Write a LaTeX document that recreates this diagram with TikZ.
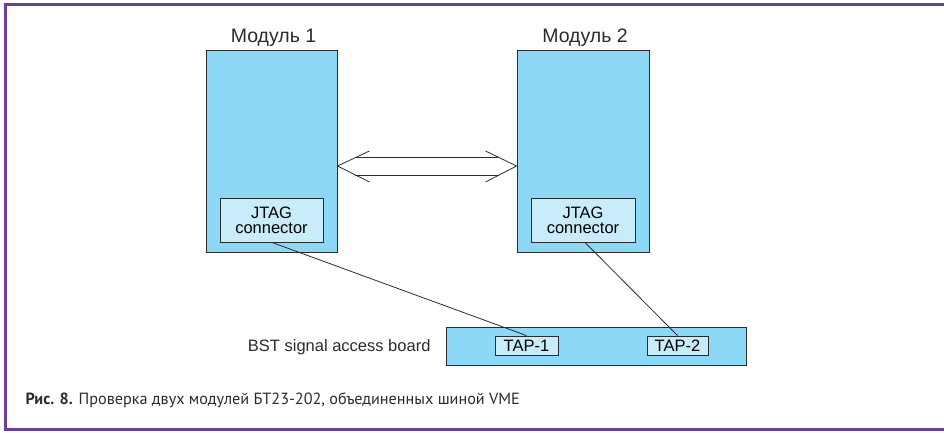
\documentclass[tikz,border=0pt]{standalone}
\usepackage{fontspec}
\setmainfont{Liberation Sans}
\newfontfamily\captionfont{PT Sans}
\usetikzlibrary{positioning, calc}
\definecolor{ModBlue}{HTML}{8DD8F6}
\definecolor{PaleBlue}{HTML}{C8ECFA}
\definecolor{FramePurple}{HTML}{6B3FA0}
\definecolor{InkGray}{HTML}{2B2B2B}

\tikzset{
    modbox/.style={draw=InkGray,fill=ModBlue,line width=0.9pt,inner sep=0pt},
    portbox/.style={draw=InkGray,fill=PaleBlue,line width=0.9pt,inner sep=0pt,
                    align=center,font=\fontsize{16.5}{17}\selectfont},
    lbl/.style={text=InkGray,font=\fontsize{16.5}{18}\selectfont},
    modlbl/.style={text=InkGray,font=\fontsize{19.5}{21}\selectfont,anchor=base},
    wire/.style={draw=InkGray,line width=0.8pt}
}

\begin{document}
\begin{tikzpicture}[x=1pt,y=-1pt]
    \useasboundingbox (0,0) rectangle (944,432);

    % Frame
    \draw[FramePurple,line width=3pt] (944,4) -- (5,4) -- (5,429.5) -- (944,429.5);

    % Modules
    \node[modbox,minimum width=131pt,minimum height=202pt] (m1) at (271.5,151) {};
    \node[modbox,minimum width=132pt,minimum height=202pt] (m2) at (583,151) {};
    \node[modlbl] (m1lbl) at ($(m1.north)+(2,-7)$) {Модуль 1};
    \node[modlbl] (m2lbl) at ($(m2.north)+(2,-7)$) {Модуль 2};

    % JTAG connectors
    \node[portbox,minimum width=103pt,minimum height=44pt] (j1) at (271.5,220) {JTAG\\[-2pt]connector};
    \node[portbox,minimum width=104pt,minimum height=44pt] (j2) at (583,220) {JTAG\\[-2pt]connector};

    % Double arrow between modules
    \coordinate (al) at ($(m1.east)+(0,15)$);
    \coordinate (ar) at ($(m2.west)+(0,15)$);
    \draw[wire] ($(al)+(32,-15)$) -- (al) -- ($(al)+(32,16)$);
    \draw[wire] ($(ar)+(-31,-15)$) -- (ar) -- ($(ar)+(-31,16)$);
    \draw[wire] ($(al)+(19,-9)$) -- ($(ar)+(-19,-9)$);
    \draw[wire] ($(al)+(18,9)$) -- ($(ar)+(-18,9)$);

    % BST board
    \node[modbox,minimum width=300pt,minimum height=38pt] (bst) at (596.5,346) {};
    \node[portbox,minimum width=63pt,minimum height=19pt] (tap1) at (526.5,345.5) {TAP-1};
    \node[portbox,minimum width=61pt,minimum height=19pt] (tap2) at (677.5,345.5) {TAP-2};
    \node[lbl,anchor=east] (bstlbl) at (434,347) {BST signal access board};

    % Cables
    \draw[wire] ($(j1.south)+(0.5,0)$) -- (tap1.north);
    \draw[wire] ($(j2.south)+(2,0)$) -- (tap2.north);

    % Caption
    \node[anchor=west,text=InkGray,font=\captionfont\fontsize{16.2}{18}\selectfont] (cap) at (22,400)
        {\textbf{Рис. 8.} Проверка двух модулей БТ23-202, объединенных шиной VME};
\end{tikzpicture}
\end{document}
